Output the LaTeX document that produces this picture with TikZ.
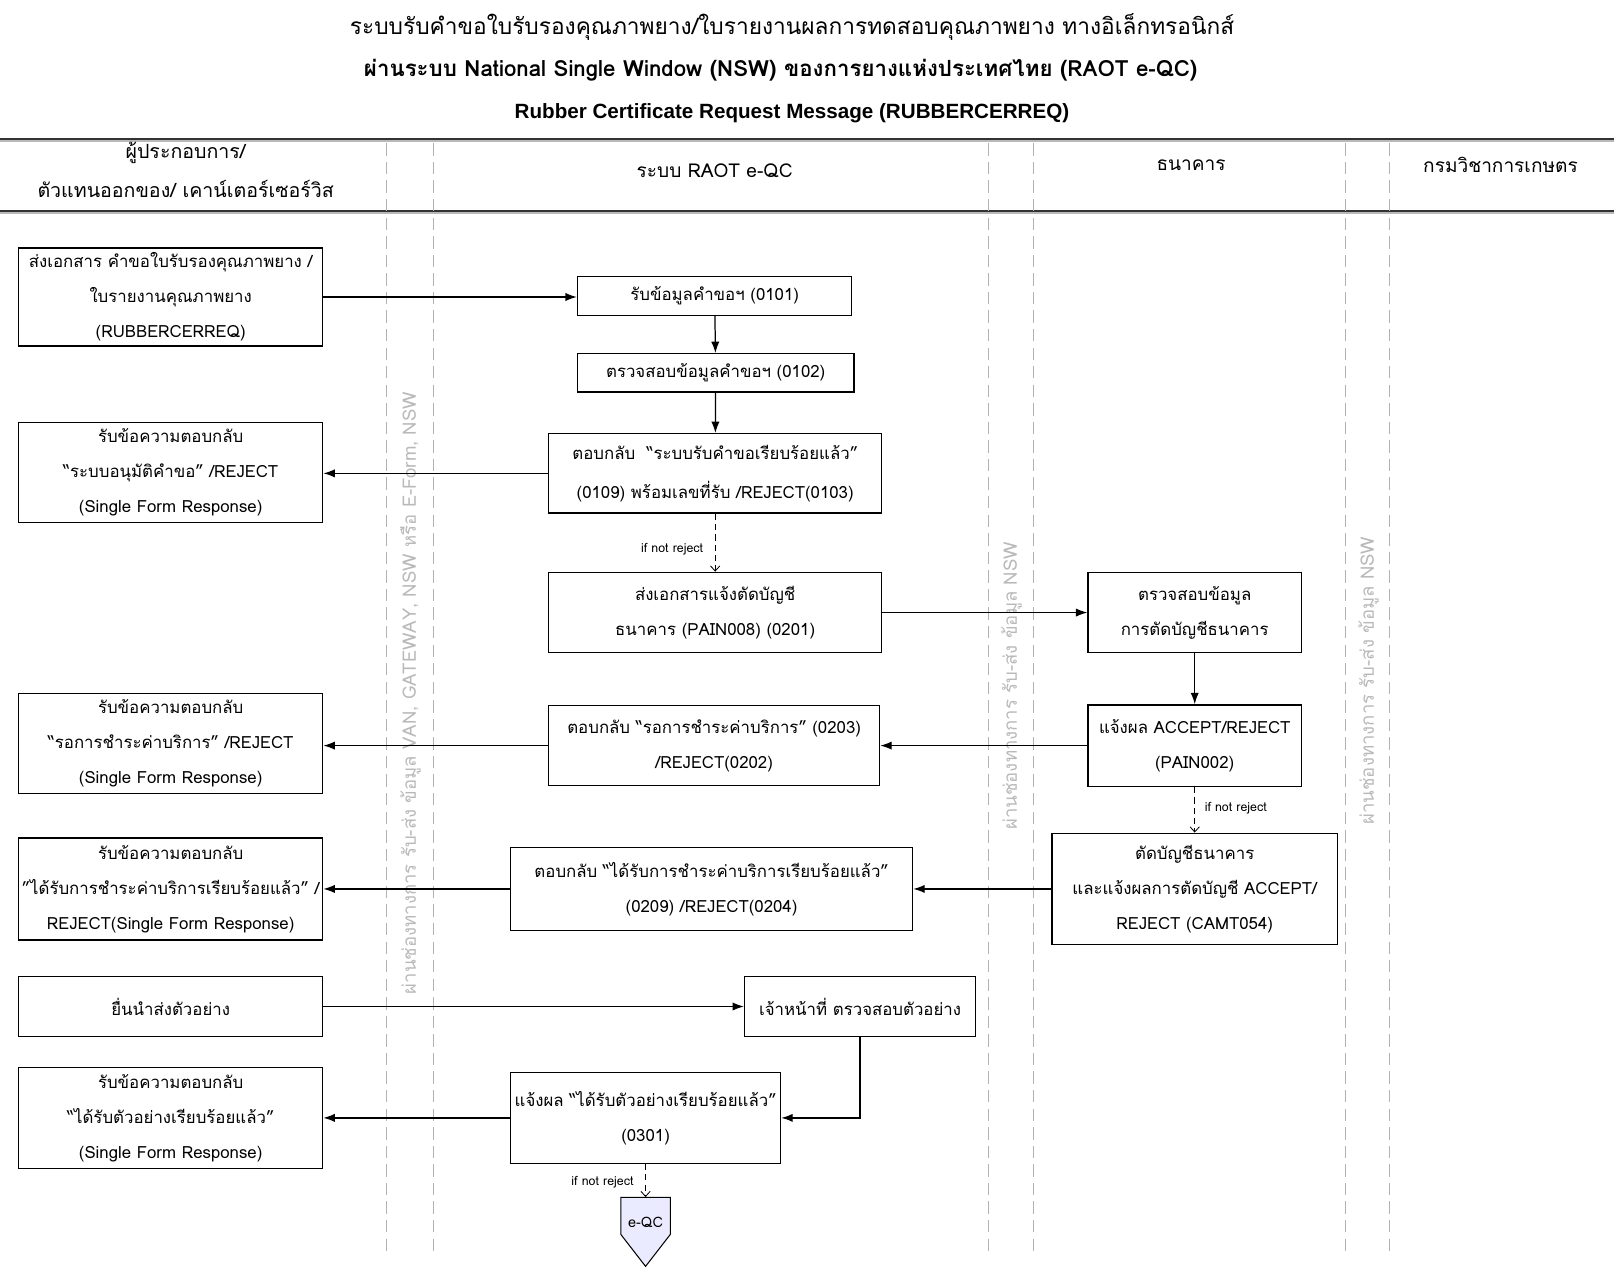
\documentclass[tikz,border=0pt]{standalone}
\usepackage{fontspec}
\usetikzlibrary{positioning,arrows.meta}
\setmainfont{Loma}[Script=Thai]
\newfontfamily\headfont{Liberation Sans}

\begin{document}
\begin{tikzpicture}[x=1pt,y=-1pt,
    box/.style={draw, line width=1.3pt, align=center, inner sep=2pt, font=\fontsize{16.3}{34}\selectfont},
    flow/.style={line width=1.2pt, -{Latex[length=11pt,width=8pt]}},
    maybe/.style={line width=0.8pt, dash pattern=on 6pt off 4pt, -{Straight Barb[length=5pt,width=9pt]}},
    lane/.style={gray!60, line width=0.8pt, dash pattern=on 12pt off 6pt},
    lanetext/.style={gray!55, rotate=90, font=\fontsize{18}{20}\selectfont},
    note/.style={font=\fontsize{12}{13}\selectfont}]
    \useasboundingbox (0,0) rectangle (1568,1230);

    % Title
    \node (title1) at (768,26) {\fontsize{22}{24}\selectfont ระบบรับคำขอใบรับรองคุณภาพยาง/ใบรายงานผลการทดสอบคุณภาพยาง ทางอิเล็กทรอนิกส์};
    \node (title2) at (757,68) {\fontsize{21.6}{24}\selectfont\bfseries ผ่านระบบ National Single Window (NSW) ของการยางแห่งประเทศไทย (RAOT e-QC)};
    \node (title3) at (768,110) {\headfont\fontsize{20}{22}\selectfont\bfseries Rubber Certificate Request Message (RUBBERCERREQ)};

    % Lanes
    \draw[line width=2pt, gray!55] (0,136.8) -- (1565,136.8);
    \draw[line width=2pt, gray!55] (0,206.8) -- (1565,206.8);
    \draw[line width=2pt, black!80] (0,135) -- (1565,135);
    \draw[line width=2pt, black!80] (0,205) -- (1565,205);
    \foreach \x in {375,420,958,1002,1305,1347} {
        \draw[lane] (\x,139) -- (\x,1218);
    }
    \node[align=center, font=\fontsize{19}{38}\selectfont] (lane1) at (180,165) {ผู้ประกอบการ/\\ตัวแทนออกของ/ เคาน์เตอร์เซอร์วิส};
    \node[font=\fontsize{18.5}{20}\selectfont] (lane2) at (693,166) {ระบบ RAOT e-QC};
    \node[font=\fontsize{18.5}{20}\selectfont] (lane3) at (1155,160) {ธนาคาร};
    \node[font=\fontsize{18.5}{20}\selectfont] (lane4) at (1455,160) {กรมวิชาการเกษตร};
    \node[lanetext] (via1) at (398,672) {ผ่านช่องทางการ รับ-ส่ง ข้อมูล VAN, GATEWAY, NSW หรือ E-Form, NSW};
    \node[lanetext] (via2) at (981,665) {ผ่านช่องทางการ รับ-ส่ง ข้อมูล NSW};
    \node[lanetext] (via3) at (1327,660) {ผ่านช่องทางการ รับ-ส่ง ข้อมูล NSW};

    % Trader lane
    \node[box, minimum width=295, minimum height=95] (A1) at (165.5,288) {ส่งเอกสาร คำขอใบรับรองคุณภาพยาง /\\ใบรายงานคุณภาพยาง\\(RUBBERCERREQ)};
    \node[box, minimum width=295, minimum height=97] (A2) at (165.5,458) {รับข้อความตอบกลับ\\“ระบบอนุมัติคำขอ” /REJECT\\(Single Form Response)};
    \node[box, minimum width=295, minimum height=97] (A3) at (165.5,721) {รับข้อความตอบกลับ\\“รอการชำระค่าบริการ” /REJECT\\(Single Form Response)};
    \node[box, minimum width=295, minimum height=99] (A4) at (165.5,862) {รับข้อความตอบกลับ\\"ได้รับการชำระค่าบริการเรียบร้อยแล้ว" /\\REJECT(Single Form Response)};
    \node[box, minimum width=295, minimum height=58] (A5) at (165.5,976) {ยื่นนำส่งตัวอย่าง};
    \node[box, minimum width=295, minimum height=98] (A6) at (165.5,1084) {รับข้อความตอบกลับ\\“ได้รับตัวอย่างเรียบร้อยแล้ว”\\(Single Form Response)};

    % RAOT e-QC lane
    \node[box, minimum width=266, minimum height=38] (B1) at (693,287) {รับข้อมูลคำขอฯ (0101)};
    \node[box, minimum width=268, minimum height=37] (B2) at (694,361.5) {ตรวจสอบข้อมูลคำขอฯ (0102)};
    \node[box, minimum width=323, minimum height=77] (B3) at (693.5,459) {ตอบกลับ~~“ระบบรับคำขอเรียบร้อยแล้ว”\\[4pt](0109) พร้อมเลขที่รับ /REJECT(0103)};
    \node[box, minimum width=323, minimum height=78] (B4) at (693.5,594) {ส่งเอกสารแจ้งตัดบัญชี\\ธนาคาร (PAIN008) (0201)};
    \node[box, minimum width=321, minimum height=78] (B5) at (692.5,723) {ตอบกลับ “รอการชำระค่าบริการ” (0203)\\/REJECT(0202)};
    \node[box, minimum width=390, minimum height=80] (B6) at (690,862) {ตอบกลับ “ได้รับการชำระค่าบริการเรียบร้อยแล้ว”\\(0209) /REJECT(0204)};
    \node[box, minimum width=224, minimum height=58] (B7) at (834,976) {เจ้าหน้าที่ ตรวจสอบตัวอย่าง};
    \node[box, minimum width=262, minimum height=88] (B8) at (626,1084) {แจ้งผล “ได้รับตัวอย่างเรียบร้อยแล้ว”\\(0301)};
    % off-page connector
    \draw[line width=1pt, fill=blue!8] (602,1161) -- (650,1161) -- (650,1197) -- (626,1228) -- (602,1197) -- cycle;
    \node[minimum width=48, minimum height=48, inner sep=0pt, font=\fontsize{14}{16}\selectfont] (eqc) at (626,1185) {e-QC};

    % Bank lane
    \node[box, minimum width=207, minimum height=78] (C1) at (1158.5,594) {ตรวจสอบข้อมูล\\การตัดบัญชีธนาคาร};
    \node[box, minimum width=207, minimum height=79] (C2) at (1158.5,723) {แจ้งผล ACCEPT/REJECT\\(PAIN002)};
    \node[box, minimum width=277, minimum height=108] (C3) at (1158.5,862) {ตัดบัญชีธนาคาร\\และแจ้งผลการตัดบัญชี ACCEPT/\\REJECT (CAMT054)};

    % Messages
    \draw[flow] (A1.east) -- (A1.east -| B1.west);
    \draw[flow] (B1) -- (B2);
    \draw[flow] (B2) -- (B3);
    \draw[flow] (B3.west) -- (B3.west -| A2.east);
    \draw[maybe] (B3) -- (B4) node[note, pos=0.62, left=8pt] {if not reject};
    \draw[flow] (B4.east) -- (B4.east -| C1.west);
    \draw[flow] (C1) -- (C2);
    \draw[flow] (C2.west) -- (C2.west -| B5.east);
    \draw[flow] (B5.west) -- (B5.west -| A3.east);
    \draw[maybe] (C2) -- (C3) node[note, pos=0.46, right=6pt] {if not reject};
    \draw[flow] (C3.west) -- (C3.west -| B6.east);
    \draw[flow] (B6.west) -- (B6.west -| A4.east);
    \draw[flow] (A5.east) -- (A5.east -| B7.west);
    \draw[flow] (B7.south) |- (B8.east);
    \draw[flow] (B8.west) -- (B8.west -| A6.east);
    \draw[maybe] (B8.south) -- (eqc.north) node[note, pos=0.55, left=8pt] {if not reject};
\end{tikzpicture}
\end{document}
